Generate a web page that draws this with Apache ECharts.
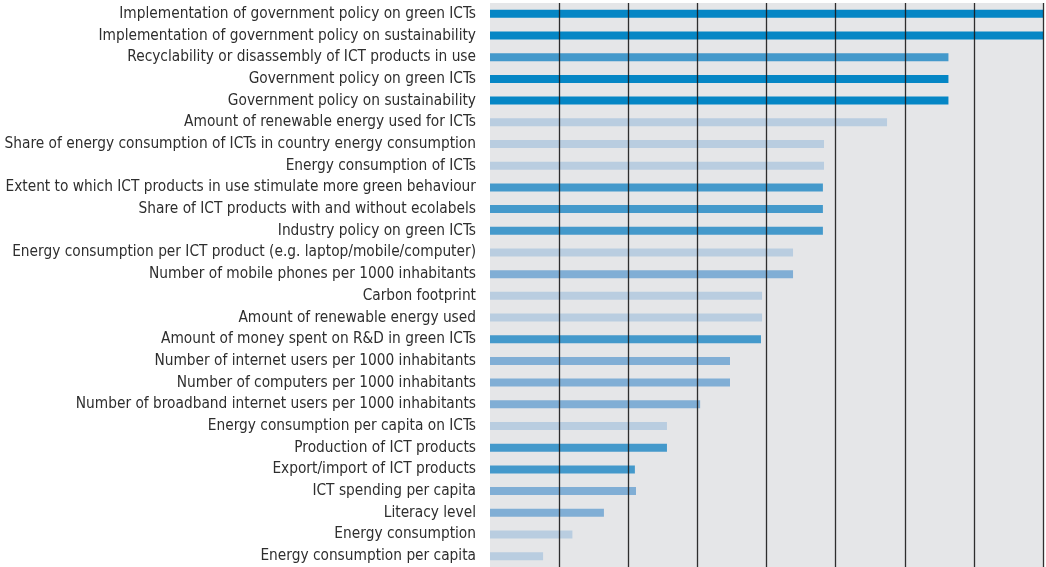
<!DOCTYPE html>
<html>
<head>
<meta charset="utf-8">
<script src="https://cdn.jsdelivr.net/npm/echarts@6/dist/echarts.min.js"></script>
<style>
  html, body { margin: 0; padding: 0; background: #fff; }
  #chart { width: 1046px; height: 567px; }
</style>
</head>
<body>
<div id="chart"></div>
<script>
  // indicators, top to bottom
  var indicators = [
    'Implementation of government policy on green ICTs',
    'Implementation of government policy on sustainability',
    'Recyclability or disassembly of ICT products in use',
    'Government policy on green ICTs',
    'Government policy on sustainability',
    'Amount of renewable energy used for ICTs',
    'Share of energy consumption of ICTs in country energy consumption',
    'Energy consumption of ICTs',
    'Extent to which ICT products in use stimulate more green behaviour',
    'Share of ICT products with and without ecolabels',
    'Industry policy on green ICTs',
    'Energy consumption per ICT product (e.g. laptop/mobile/computer)',
    'Number of mobile phones per 1000 inhabitants',
    'Carbon footprint',
    'Amount of renewable energy used',
    'Amount of money spent on R&D in green ICTs',
    'Number of internet users per 1000 inhabitants',
    'Number of computers per 1000 inhabitants',
    'Number of broadband internet users per 1000 inhabitants',
    'Energy consumption per capita on ICTs',
    'Production of ICT products',
    'Export/import of ICT products',
    'ICT spending per capita',
    'Literacy level',
    'Energy consumption',
    'Energy consumption per capita'
  ];

  // share of maximum (%)
  var scores = [
    100, 100, 82.9, 82.9, 82.9, 71.8, 60.4, 60.4, 60.2, 60.2, 60.2,
    54.8, 54.8, 49.2, 49.2, 49.0, 43.4, 43.4, 38.0, 32.0, 32.0,
    26.2, 26.4, 20.6, 14.9, 9.6
  ];

  // colour group of each bar (0 = darkest ... 3 = lightest)
  var groups = [
    0, 0, 1, 0, 0, 3, 3, 3, 1, 1, 1, 3, 2, 3, 3, 1, 2, 2, 2, 3, 1,
    1, 2, 2, 3, 3
  ];

  var palette = ['#0586c5', '#4499cb', '#80aed5', '#b9cde0'];

  var chart = echarts.init(document.getElementById('chart'));

  var barData = [];
  for (var i = 0; i < scores.length; i++) {
    barData.push({
      value: scores[i],
      itemStyle: { color: palette[groups[i]] }
    });
  }

  // no line at zero, dark lines at the other ticks
  var lineCol = 'rgba(25,25,25,0.9)';
  var splitCols = ['rgba(0,0,0,0)'];
  for (var k = 0; k < 8; k++) splitCols.push(lineCol);

  chart.setOption({
    animation: false,
    grid: {
      left: 490,
      right: 3,
      top: 3,
      bottom: 0,
      containLabel: false,
      outerBoundsMode: 'none',
      show: true,
      backgroundColor: '#e5e6e8',
      borderWidth: 0
    },
    xAxis: {
      type: 'value',
      min: 0,
      max: 100,
      interval: 12.5,
      z: 5,
      axisLine: { show: false },
      axisTick: { show: false },
      axisLabel: { show: false },
      splitLine: {
        show: true,
        lineStyle: { color: splitCols, width: 1.3 }
      }
    },
    yAxis: {
      type: 'category',
      inverse: true,
      data: indicators,
      axisLine: { show: false },
      axisTick: { show: false },
      axisLabel: {
        interval: 0,
        margin: 14,
        color: '#2e2e2e',
        fontFamily: '"DejaVu Sans Condensed", sans-serif',
        fontSize: 15.3
      }
    },
    series: [{
      type: 'bar',
      barWidth: 8,
      data: barData
    }]
  });
</script>
</body>
</html>
